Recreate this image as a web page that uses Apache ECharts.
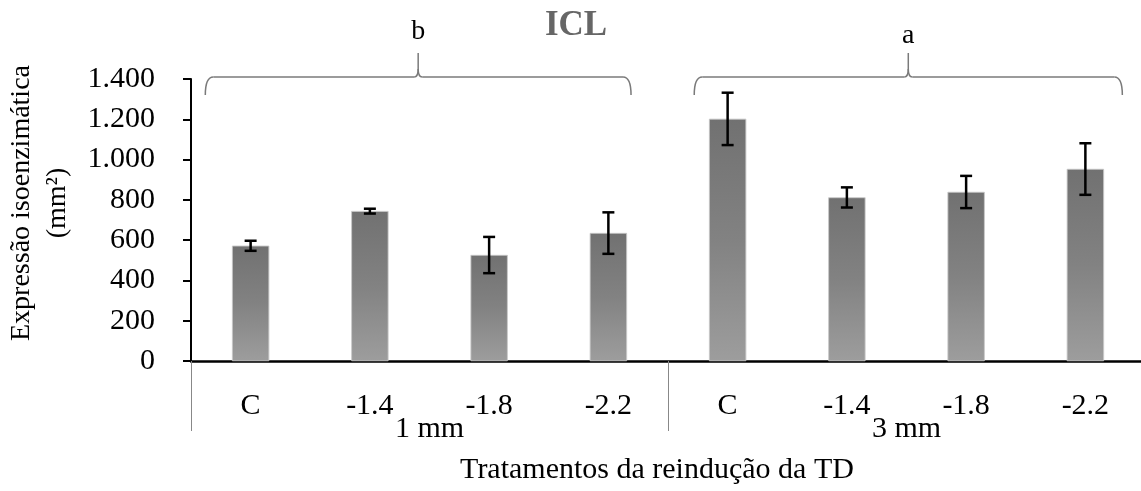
<!DOCTYPE html>
<html>
<head>
<meta charset="utf-8">
<script src="https://cdn.jsdelivr.net/npm/echarts@6/dist/echarts.min.js"></script>
<style>
  html, body { margin: 0; padding: 0; background: #fff; }
  #icl-bar { width: 1141px; height: 491px; }
</style>
</head>
<body>
<div id="icl-bar"></div>
<script>
var categories = ['C', '-1.4', '-1.8', '-2.2', 'C', '-1.4', '-1.8', '-2.2'];
var groups = ['1 mm', '3 mm'];
var meanValues = [572, 744, 526, 635, 1202, 812, 839, 953];
var errorValues = [25, 12, 90, 103, 130, 50, 80, 128];
var yTickLabels = ['0', '200', '400', '600', '800', '1.000', '1.200', '1.400'];
var groupLetters = ['b', 'a'];

var serif = "'Liberation Serif', 'Times New Roman', serif";

function icl_bar_chart_draw() {
    var chartDom = document.getElementById('icl-bar');
    var chart = echarts.init(chartDom);

    var errorData = categories.map(function (c, i) {
        return [i, meanValues[i] - errorValues[i], meanValues[i] + errorValues[i]];
    });

    var option = {
        animation: false,
        grid: {
            left: 191, right: -4, top: 79, bottom: 130,
            outerBoundsMode: 'none'
        },
        xAxis: [
            {
                type: 'category',
                data: categories,
                position: 'bottom',
                axisLine: { lineStyle: { color: '#000', width: 2.5 } },
                axisTick: { show: false },
                axisLabel: { color: '#000', fontFamily: serif, fontSize: 30, margin: 30, interval: 0 }
            },
            {
                type: 'category',
                data: groups,
                position: 'bottom',
                axisLine: { show: false },
                axisTick: { show: true, length: 70, lineStyle: { color: '#888', width: 1 } },
                axisLabel: { color: '#000', fontFamily: serif, fontSize: 30, margin: 53 }
            }
        ],
        yAxis: {
            type: 'value',
            min: 0, max: 1400, interval: 200,
            splitLine: { show: false },
            axisLine: { show: true, lineStyle: { color: '#000', width: 2 } },
            axisTick: { show: true, length: 8, lineStyle: { color: '#000', width: 2 } },
            axisLabel: {
                color: '#000', fontFamily: serif, fontSize: 30, margin: 36,
                formatter: function (v) { return yTickLabels[Math.round(v / 200)]; }
            }
        },
        series: [
            {
                name: 'ICL',
                type: 'bar',
                barWidth: 37,
                data: meanValues,
                itemStyle: {
                    color: new echarts.graphic.LinearGradient(0, 0, 0, 1, [
                        { offset: 0, color: '#717171' },
                        { offset: 0.5, color: '#828282' },
                        { offset: 1, color: '#9d9d9d' }
                    ]),
                    borderColor: '#c8c8c8',
                    borderWidth: 0.5
                }
            },
            {
                name: 'erro',
                type: 'custom',
                data: errorData,
                z: 5,
                renderItem: function (params, api) {
                    var x = api.value(0);
                    var lo = api.coord([x, api.value(1)]);
                    var hi = api.coord([x, api.value(2)]);
                    var hw = 6;
                    var st = { stroke: '#000', lineWidth: 2.5 };
                    return {
                        type: 'group',
                        children: [
                            { type: 'line', shape: { x1: hi[0], y1: hi[1], x2: lo[0], y2: lo[1] }, style: st },
                            { type: 'line', shape: { x1: hi[0] - hw, y1: hi[1], x2: hi[0] + hw, y2: hi[1] }, style: st },
                            { type: 'line', shape: { x1: lo[0] - hw, y1: lo[1], x2: lo[0] + hw, y2: lo[1] }, style: st }
                        ]
                    };
                }
            }
        ]
    };

    chart.setOption(option, true);

    // braces over the two groups + letters, title and axis names
    var px = function (i) { return chart.convertToPixel({ xAxisIndex: 0 }, i); };
    var step = px(1) - px(0);
    var braces = [
        { x0: px(0) - 0.38 * step, x1: px(3) + 0.19 * step, letter: groupLetters[0], ly: 32 },
        { x0: px(4) - 0.28 * step, x1: px(7) + 0.31 * step, letter: groupLetters[1], ly: 36 }
    ];
    var y = 77;
    var bst = { fill: null, stroke: '#7a7a7a', lineWidth: 1.5 };
    var els = [];
    function seg(x1, y1, x2, y2) {
        els.push({ type: 'line', shape: { x1: x1, y1: y1, x2: x2, y2: y2 }, style: bst });
    }
    function curve(x1, y1, cx, cy, x2, y2) {
        els.push({ type: 'bezierCurve', shape: { x1: x1, y1: y1, x2: x2, y2: y2, cpx1: cx, cpy1: cy }, style: bst });
    }
    braces.forEach(function (b) {
        var xm = (b.x0 + b.x1) / 2;
        curve(b.x0, y + 18, b.x0, y, b.x0 + 8, y);
        seg(b.x0 + 8, y, xm - 4, y);
        curve(xm - 4, y, xm, y, xm, y - 8);
        seg(xm, y - 8, xm, y - 24);
        curve(xm, y - 8, xm, y, xm + 4, y);
        seg(xm + 4, y, b.x1 - 8, y);
        curve(b.x1 - 8, y, b.x1, y, b.x1, y + 18);
        els.push({
            type: 'text', x: xm, y: b.ly,
            style: { text: b.letter, font: '28px ' + serif, fill: '#000', align: 'center', verticalAlign: 'middle' }
        });
    });
    els.push({
        type: 'text', x: 576, y: 26,
        style: { text: 'ICL', font: 'bold 35px ' + serif, fill: '#666', align: 'center', verticalAlign: 'middle' }
    });
    els.push({
        type: 'text', x: 40, y: 203, rotation: Math.PI / 2,
        style: {
            text: 'Expressão isoenzimática\n(mm²)', font: '28px ' + serif, lineHeight: 36,
            fill: '#000', align: 'center', verticalAlign: 'middle'
        }
    });
    els.push({
        type: 'text', x: 657, y: 470,
        style: { text: 'Tratamentos da reindução da TD', font: '30px ' + serif, fill: '#000', align: 'center', verticalAlign: 'middle' }
    });

    chart.setOption({ graphic: els });
}

icl_bar_chart_draw();
</script>
</body>
</html>
